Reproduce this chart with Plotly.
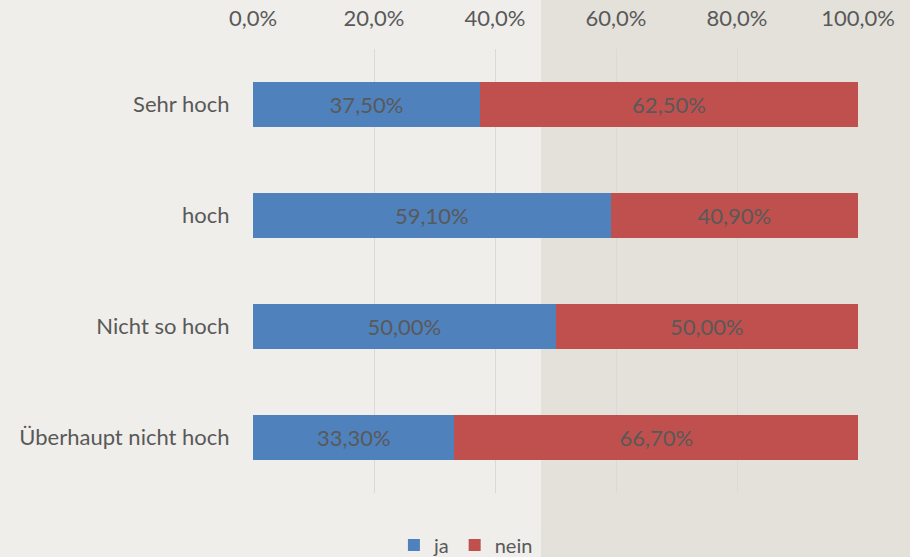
import plotly.graph_objects as go

categories = ["Sehr hoch", "hoch", "Nicht so hoch", "Überhaupt nicht hoch"]
ja = [0.375, 0.591, 0.50, 0.333]
nein = [0.625, 0.409, 0.50, 0.667]
tick_vals = [0, 0.2, 0.4, 0.6, 0.8, 1.0]
tick_text = ["0,0%", "20,0%", "40,0%", "60,0%", "80,0%", "100,0%"]

FONT = "Lato"
TXT = "#595959"
FS = 22

fig = go.Figure()
fig.add_trace(go.Bar(y=categories, x=ja, name="ja", orientation="h",
                     marker=dict(color="#4f81bd", line=dict(width=0)),
                     texttemplate="%{x:.2%}", textposition="inside",
                     insidetextanchor="middle",
                     textfont=dict(color=TXT, size=FS, family=FONT)))
fig.add_trace(go.Bar(y=categories, x=nein, name="nein", orientation="h",
                     marker=dict(color="#c0504d", line=dict(width=0)),
                     texttemplate="%{x:.2%}", textposition="inside",
                     insidetextanchor="middle",
                     textfont=dict(color=TXT, size=FS, family=FONT)))

W, H = 910, 557
L, R, T, B = 253, 52, 49, 64
pw, ph = W - L - R, H - T - B

fig.update_layout(
    width=W, height=H,
    barmode="stack", bargap=0.6,
    separators=",.",
    margin=dict(l=L, r=R, t=T, b=B, autoexpand=False),
    paper_bgcolor="#efeeea", plot_bgcolor="rgba(0,0,0,0)",
    font=dict(family=FONT, color=TXT, size=FS),
    showlegend=True,
    legend=dict(orientation="h", xref="container", x=0.512, xanchor="center",
                yref="paper", y=-(545 - (H - B)) / ph, yanchor="middle",
                font=dict(size=20, color=TXT), traceorder="normal",
                itemwidth=30, bgcolor="rgba(0,0,0,0)"),
    xaxis=dict(side="top", range=[0, 1], tickvals=tick_vals, ticktext=tick_text,
               showgrid=True, gridcolor="#d9d9d9", gridwidth=1, zeroline=False,
               ticks="outside", ticklen=13, tickcolor="rgba(0,0,0,0)",
               tickfont=dict(size=FS, color=TXT, family=FONT), showline=False,
               automargin=False, fixedrange=True),
    yaxis=dict(categoryorder="array", categoryarray=categories[::-1],
               ticks="outside", ticklen=18, tickcolor="rgba(0,0,0,0)",
               tickfont=dict(size=FS, color=TXT, family=FONT), showgrid=False,
               showline=False, automargin=False, fixedrange=True),
    shapes=[dict(type="rect", xref="paper", yref="paper", layer="below",
                 x0=(541 - L) / pw, x1=(W - L) / pw + 0.05,
                 y0=-B / ph - 0.05, y1=1 + T / ph + 0.05,
                 fillcolor="#e4e1db", line=dict(width=0))],
)
fig.write_html("out.html", config={"displayModeBar": False},
               post_script="document.body.style.margin='0';document.body.style.padding='0';")
